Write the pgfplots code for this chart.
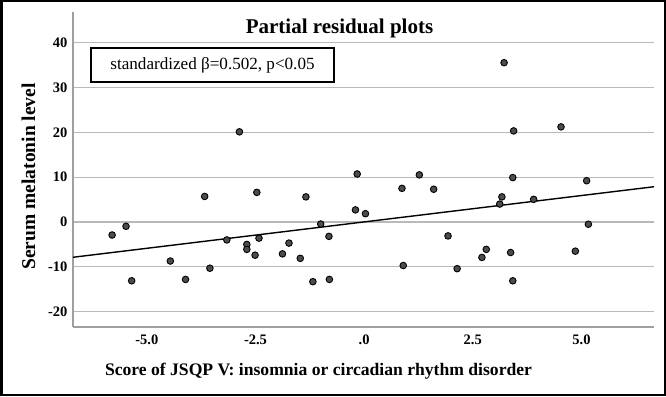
\documentclass[border=0pt]{standalone}
\usepackage{pgfplots}
\pgfplotsset{compat=1.18}
\usepackage{fontspec}
\setmainfont{Liberation Serif}
\begin{document}
\begin{tikzpicture}
\pgfplotstableread{
x y
-5.80 -2.9
-5.48 -0.96
-5.35 -13.1
-3.67 5.7
-2.47 6.6
-4.46 -8.7
-4.11 -12.8
-3.55 -10.3
-3.16 -4.0
-2.70 -5.0
-2.70 -6.1
-2.42 -3.6
-2.51 -7.4
-2.87 20.1
-0.16 10.7
1.27 10.5
-1.34 5.6
0.87 7.5
1.60 7.3
-0.20 2.7
0.03 1.85
-1.00 -0.45
-0.81 -3.2
-1.73 -4.7
-1.88 -7.1
-1.47 -8.1
-1.18 -13.3
-0.80 -12.8
0.90 -9.7
1.93 -3.1
2.14 -10.4
3.42 9.9
5.12 9.2
3.17 5.6
3.12 4.0
3.90 5.05
5.16 -0.5
2.81 -6.1
2.71 -7.9
3.37 -6.8
4.86 -6.5
3.42 -13.1
3.22 35.5
3.44 20.3
4.53 21.2
}\pts
\draw[line width=2.5pt, black] (1.25pt,1.25pt) rectangle (664.75pt,394.75pt);
\begin{axis}[
  at={(73pt,69pt)}, anchor=south west,
  width=581pt, height=315pt, scale only axis,
  xmin=-6.70, xmax=6.67, ymin=-23.4, ymax=46.8,
  axis x line*=bottom, axis y line*=left,
  axis line style={gray!75, line width=1.3pt},
  xtick={-5,-2.5,0,2.5001,5},
  xticklabels={{-5.0},{-2.5},{.0},{2\kern0pt.5},{5.0}},
  ytick={-20,-10,0,10,20,30,40},
  yticklabels={{-20},{-10},{0},{10},{20},{30},{40}},
  major tick length=0pt,
  ymajorgrids,
  grid style={gray!55, line width=1.2pt},
  /pgf/number format/assume math mode=true,
  tick label style={font=\fontsize{14.5}{16}\selectfont\bfseries},
  xticklabel style={yshift=-4pt},
  yticklabel style={xshift=-2pt},
  clip=false,
]
\addplot[black, line width=1.4pt] coordinates {(-6.70,-7.86) (6.67,7.86)};
\addplot[only marks, mark=*, mark size=3.3pt, mark options={fill=black!70, draw=black, line width=0.9pt}] table[x=x,y=y] {\pts};
\end{axis}
\node[font=\fontsize{21}{24}\selectfont\bfseries] at (339.5pt,368pt) {Partial residual plots};
\node[font=\fontsize{19.5}{22}\selectfont\bfseries, rotate=90] at (28.5pt,219.5pt) {Serum melatonin level};
\node[font=\fontsize{17.6}{20}\selectfont\bfseries] at (318.5pt,24.3pt) {Score of JSQP V: insomnia or circadian rhythm disorder};
\node[draw=black, line width=1.8pt, fill=white, minimum width=243pt, minimum height=34pt, inner sep=0pt, font=\fontsize{17.1}{20}\selectfont] at (212.5pt,331pt) {standardized β=0.502, p<0.05};
\end{tikzpicture}
\end{document}
